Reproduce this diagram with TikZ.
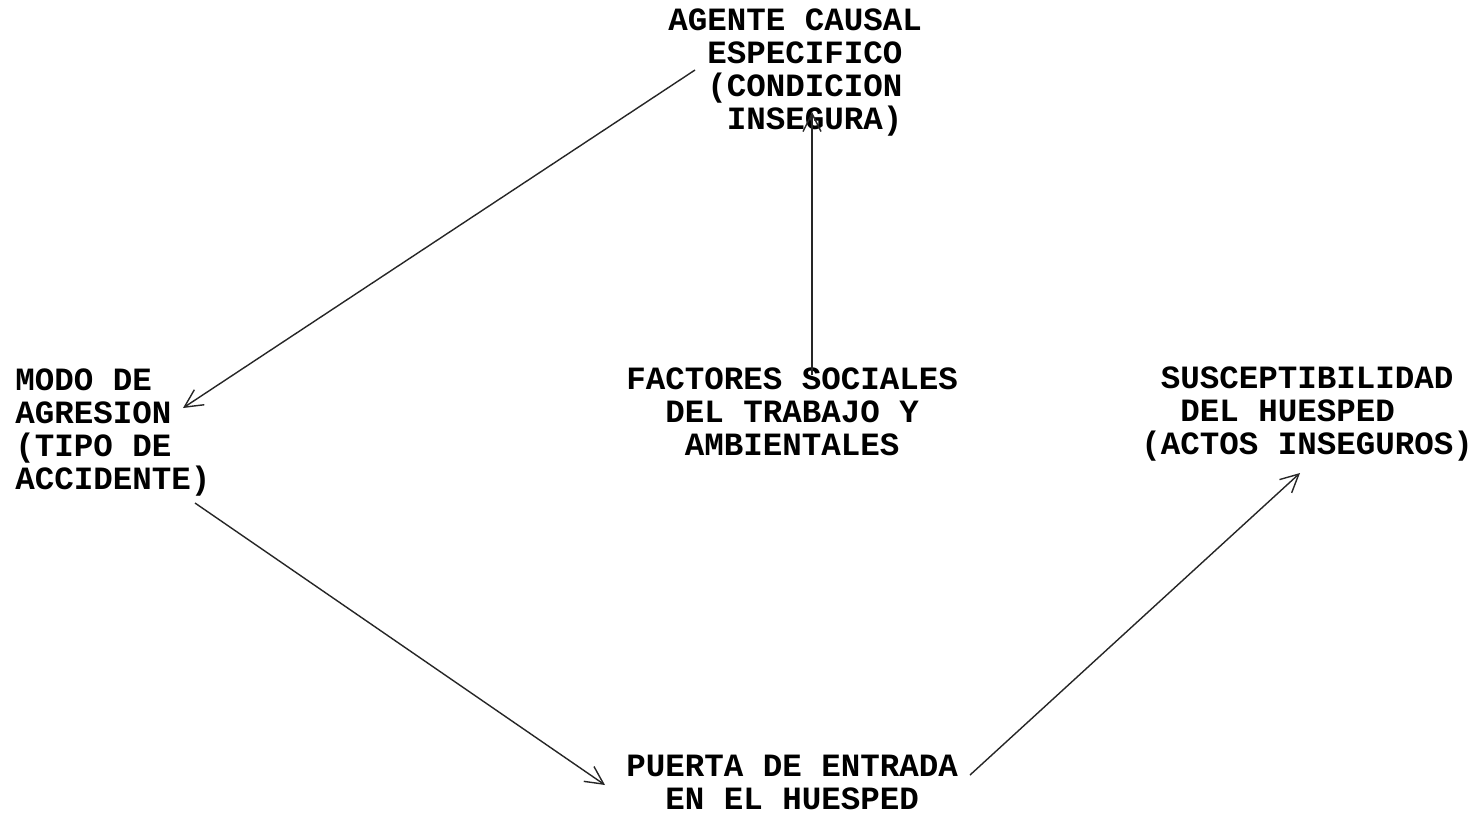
\documentclass[tikz,border=0pt]{standalone}
\usepackage{fontspec}
\setmonofont{Liberation Mono}
\usepackage{tikz}
\usetikzlibrary{arrows.meta,calc}

\begin{document}
\begin{tikzpicture}[
    x=0.5pt, y=-0.5pt,
    factor/.style={inner sep=0pt, anchor=base west, align=left, font=\ttfamily\bfseries\fontsize{16.25pt}{16.5pt}\selectfont},
    arrow/.style={line width=0.7pt, draw=black!85, -{Straight Barb[length=9pt,width=9pt]}}
]
\useasboundingbox[fill=white] (0,0) rectangle (1478,816);

% Factors (placed at the baseline of their last line)
\node[factor] (agente) at (668,129) {AGENTE CAUSAL\\\hphantom{XX}ESPECIFICO\\\hphantom{XX}(CONDICION\\\hphantom{XXX}INSEGURA)};
\node[factor] (modo) at (15,489) {MODO DE\\AGRESION\\(TIPO DE\\ACCIDENTE)};
\node[factor] (sociales) at (626,455) {FACTORES SOCIALES\\\hphantom{XX}DEL TRABAJO Y\\\hphantom{XXX}AMBIENTALES};
\node[factor] (huesped) at (1141,454) {\hphantom{X}SUSCEPTIBILIDAD\\\hphantom{XX}DEL HUESPED\\(ACTOS INSEGUROS)};
\node[factor] (puerta) at (626,809) {PUERTA DE ENTRADA\\\hphantom{XX}EN EL HUESPED};

% Arrows
\draw[arrow] ($(agente.base west)+(27,-59)$) -- ($(modo.base west)+(168,-81)$);
\draw[arrow] ($(sociales.base west)+(186,-80)$) -- ($(agente.base west)+(144,-17)$);
\draw[arrow] ($(modo.base west)+(180,14)$) -- ($(puerta.base west)+(-21,-24)$);
\draw[arrow] ($(puerta.base west)+(344,-34)$) -- ($(huesped.base west)+(159,19)$);
\end{tikzpicture}
\end{document}
